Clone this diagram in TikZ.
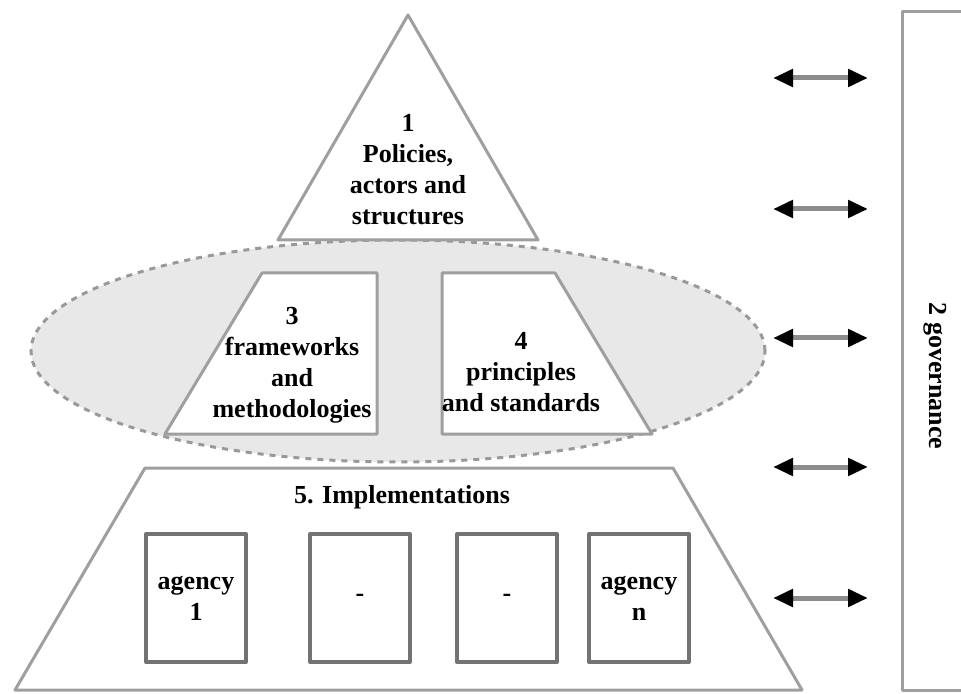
\documentclass[tikz,border=0pt]{standalone}
\usepackage{fontspec}
\setmainfont{Liberation Serif}
\usetikzlibrary{shapes.geometric,arrows.meta}

\begin{document}
\begin{tikzpicture}[
        x=0.5pt, y=-0.5pt,
        greyline/.style={draw=gray!75, line width=1.5pt, line join=round},
        panel/.style={greyline, fill=white},
        txt/.style={font=\fontsize{13}{15.5}\selectfont\bfseries, align=center, text=black},
        agency/.style={panel, draw=gray!110, line width=2pt, txt, minimum width=50pt, minimum height=64pt, inner sep=0pt},
        link/.style={draw=gray!90, line width=2.5pt, {Triangle[length=10pt, width=8.5pt, color=black]}-{Triangle[length=10pt, width=8.5pt, color=black]}}
    ]
        \useasboundingbox (0,0) rectangle (961,694);

        % Middle layer
        \node[ellipse, draw=gray!80, dashed, line width=1.5pt, fill=gray!18, minimum width=367pt, minimum height=111pt] (middle) at (398,351) {};

        % Top triangle
        \draw[panel] (408,15) -- (278,240) -- (538,240) -- cycle;
        \node[txt] (policies) at (408,170) {1\\Policies,\\actors and\\structures};

        % Frameworks and principles
        \draw[panel] (262,273) -- (377,273) -- (377,434) -- (165,434) -- cycle;
        \node[txt] (frameworks) at (292,365) {3\\frameworks\\and\\methodologies};
        \draw[panel] (442,273) -- (555,273) -- (652,434) -- (442,434) -- cycle;
        \node[txt] (principles) at (521,372) {4\\principles\\and standards};

        % Implementations
        \draw[panel] (145,468) -- (673,468) -- (802,690) -- (15,690) -- cycle;
        \node[txt] (impl) at (402,497) {5. Implementations};
        \node[agency] (agency1) at (196,598) {agency\\1};
        \node[agency] (agency2) at (360,598) {-};
        \node[agency] (agency3) at (507,598) {-};
        \node[agency] (agencyn) at (639,598) {agency\\n};

        % Governance
        \draw[greyline] (975,12) -| (902,690) -- (975,690);
        \node[txt, rotate=-90] (governance) at (935,376) {2 governance};

        % Arrows
        \foreach \y [count=\i] in {78,209,338,467,598} {
            \coordinate (west\i) at (773,\y);
            \coordinate (east\i) at (868,\y);
            \draw[link] (west\i) -- (east\i);
        }
    \end{tikzpicture}
\end{document}
